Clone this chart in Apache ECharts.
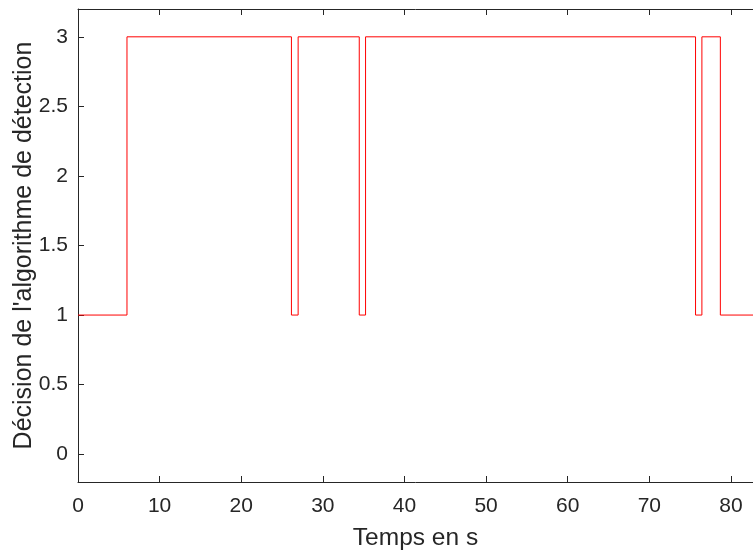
<!DOCTYPE html>
<html><head><meta charset="utf-8">
<script src="https://cdn.jsdelivr.net/npm/echarts@6/dist/echarts.min.js"></script>
<style>html,body{margin:0;padding:0;background:#fff}#c{width:753px;height:551px}</style>
</head><body><div id="c"></div>
<script>
const times = [0, 6.0, 26.15, 26.97, 34.46, 35.23, 75.66, 76.44, 78.7, 82.7];
const decisions = [1, 3, 1, 3, 1, 3, 1, 3, 1, 1];
const xTicks = [0, 10, 20, 30, 40, 50, 60, 70, 80];
const yTicks = [0, 0.5, 1, 1.5, 2, 2.5, 3];

const data = times.map((t, i) => [t, decisions[i]]);
const font = '"Liberation Sans", Arial, Helvetica, sans-serif';
const axisCol = '#262626';
const chart = echarts.init(document.getElementById('c'));
chart.setOption({
  animation: false,
  grid: { left: 78, right: 0, top: 9, bottom: 69, containLabel: false, outerBoundsMode: 'none' },
  xAxis: [{
    type: 'value', min: 0, max: 82.7, position: 'bottom',
    name: 'Temps en s', nameLocation: 'middle', nameGap: 44, nameMoveOverlap: false,
    nameTextStyle: { fontFamily: font, fontSize: 24.5, color: axisCol },
    axisLine: { show: true, onZero: false, lineStyle: { color: axisCol, width: 1 } },
    axisTick: { show: true, inside: true, length: 6, customValues: xTicks, lineStyle: { color: axisCol } },
    axisLabel: { customValues: xTicks, fontFamily: font, fontSize: 21, color: axisCol, margin: 14 },
    splitLine: { show: false }
  }, {
    type: 'value', min: 0, max: 82.7, position: 'top',
    axisLine: { show: true, onZero: false, lineStyle: { color: axisCol, width: 1 } },
    axisTick: { show: true, inside: true, length: 6, customValues: xTicks, lineStyle: { color: axisCol } },
    axisLabel: { show: false },
    splitLine: { show: false }
  }],
  yAxis: [{
    type: 'value', min: -0.2, max: 3.2,
    name: "Décision de l'algorithme de détection", nameLocation: 'middle', nameGap: 41, nameMoveOverlap: false,
    nameTextStyle: { fontFamily: font, fontSize: 25, color: axisCol },
    axisLine: { show: true, onZero: false, lineStyle: { color: axisCol, width: 1 } },
    axisTick: { show: true, inside: true, length: 6, customValues: yTicks, lineStyle: { color: axisCol } },
    axisLabel: { customValues: yTicks, fontFamily: font, fontSize: 21, color: axisCol, margin: 10 },
    splitLine: { show: false }
  }],
  series: [{
    type: 'line', step: 'end', data: data, showSymbol: false,
    lineStyle: { color: '#ff0000', width: 1 }, itemStyle: { color: '#ff0000' }
  }]
});
</script></body></html>
